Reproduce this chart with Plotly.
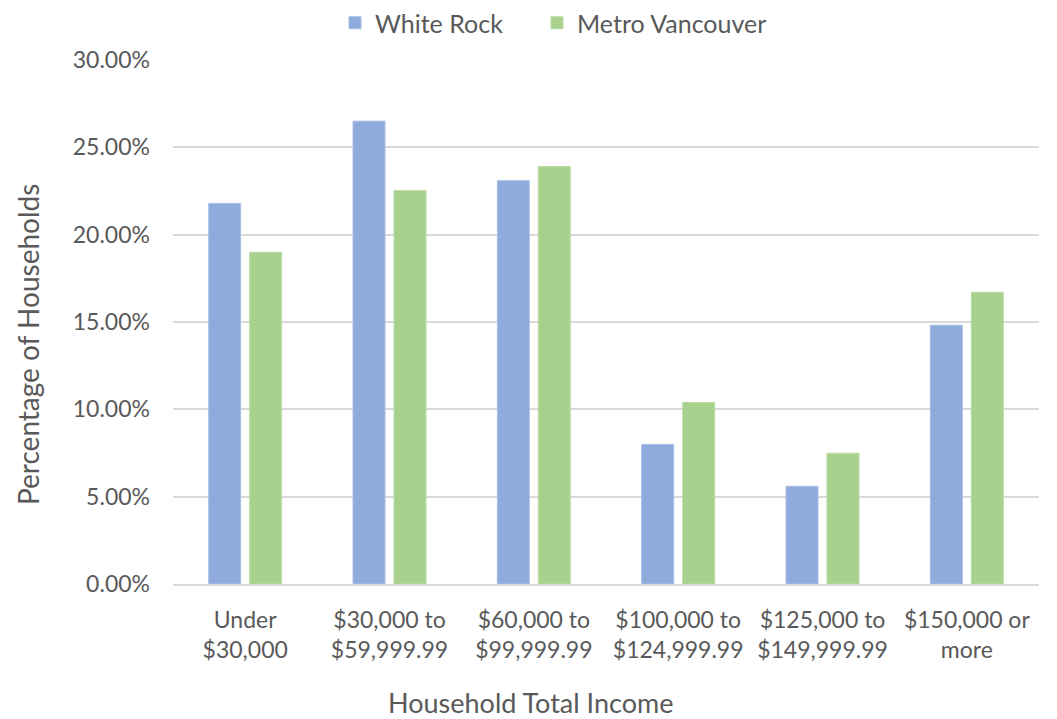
import plotly.graph_objects as go

categories = ["Under<br>$30,000", "$30,000 to<br>$59,999.99", "$60,000 to<br>$99,999.99",
              "$100,000 to<br>$124,999.99", "$125,000 to<br>$149,999.99", "$150,000 or<br>more"]
white_rock = [0.2179, 0.2650, 0.2309, 0.0799, 0.0559, 0.1482]
metro_vancouver = [0.1899, 0.2252, 0.2390, 0.1039, 0.0749, 0.1670]
y_ticks = [0, 0.05, 0.10, 0.15, 0.20, 0.25, 0.30]

text_color = "#595959"
plot_left, plot_w = 173, 866

fig = go.Figure()
fig.add_trace(go.Bar(name="White Rock", x=categories, y=white_rock, legend="legend",
                     marker=dict(color="#8FAADC", line=dict(color="#A9BEE6", width=1))))
fig.add_trace(go.Bar(name="Metro Vancouver", x=categories, y=metro_vancouver, legend="legend2",
                     marker=dict(color="#A9D18E", line=dict(color="#B9DCA2", width=1))))

legend_style = dict(orientation="h", xanchor="left", xref="paper",
                    yref="container", y=1.0, yanchor="top",
                    font=dict(size=25, color=text_color))

fig.update_layout(
    width=1057, height=719,
    margin=dict(l=plot_left, r=18, t=60, b=135, autoexpand=False),
    paper_bgcolor="white", plot_bgcolor="white",
    barmode="group", bargap=0.432, bargroupgap=0.22,
    font=dict(family="Lato", color=text_color, size=19),
    legend=dict(x=(335 - plot_left) / plot_w, **legend_style),
    legend2=dict(x=(537 - plot_left) / plot_w, **legend_style),
    showlegend=True,
)
fig.update_yaxes(range=[0, 0.30], tickvals=y_ticks, tickformat=".2%",
                 showgrid=True, gridcolor="#D9D9D9", gridwidth=1.5,
                 zeroline=False, showline=False, ticks="", ticklen=0,
                 ticklabelstandoff=22,
                 tickfont=dict(size=23, color=text_color))
fig.update_xaxes(showline=True, linecolor="#D9D9D9", linewidth=1.5,
                 ticks="", ticklabelstandoff=15,
                 tickfont=dict(size=23, color=text_color))

fig.add_annotation(text="Household Total Income", xref="paper", yref="paper",
                   x=(530 - plot_left) / plot_w, y=-(702 - 584) / 524, showarrow=False,
                   xanchor="center", yanchor="middle", font=dict(size=27, color=text_color))
fig.add_annotation(text="Percentage of Households", xref="paper", yref="paper",
                   x=-(plot_left - 28) / plot_w, y=(584 - 345) / 524, showarrow=False, textangle=-90,
                   xanchor="center", yanchor="middle", font=dict(size=28, color=text_color))

fig.write_html("out.html")
